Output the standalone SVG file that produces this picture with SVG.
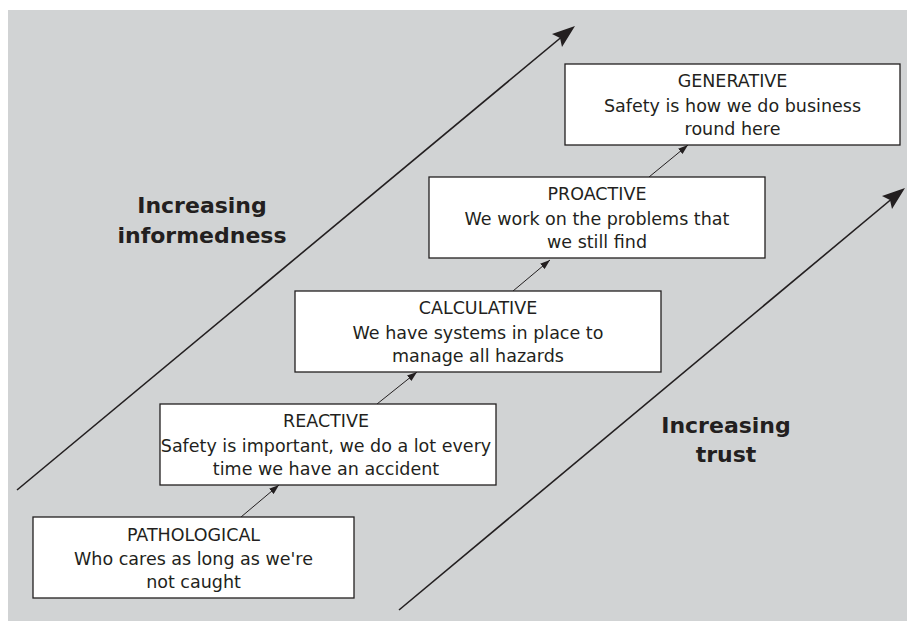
<svg xmlns="http://www.w3.org/2000/svg" width="907" height="621" viewBox="0 0 907 621">
<style>
.box{fill:#ffffff;stroke:#231f20;stroke-width:1.3}
.t{font-family:"DejaVu Sans","Liberation Sans",sans-serif;font-size:17.5px;fill:#231f20;text-anchor:middle}
.b{font-family:"DejaVu Sans","Liberation Sans",sans-serif;font-size:22px;font-weight:bold;fill:#231f20;text-anchor:middle}
.big{stroke:#231f20;stroke-width:1.6;fill:none}
.small{stroke:#231f20;stroke-width:1;fill:none}
</style>
<defs>
<marker id="smallHead" viewBox="0 0 10 7" refX="10" refY="3.5" markerWidth="10" markerHeight="7" markerUnits="userSpaceOnUse" orient="auto">
<path d="M0,0 L10,3.5 L0,7 Z" fill="#231f20"/>
</marker>
</defs>
<rect x="0" y="0" width="907" height="621" fill="#ffffff"/>
<rect x="8" y="10" width="899" height="611" fill="#d1d3d4"/>
<g id="connectors">
<line class="big" x1="17" y1="490" x2="570" y2="30"/>
<path d="M575,26 L552,34 L560,38 L562,47 Z" fill="#231f20"/>
<line class="big" x1="399" y1="610" x2="900" y2="192"/>
<path d="M905,188 L882,196 L890,200 L892,209 Z" fill="#231f20"/>
<line class="small" x1="241" y1="517" x2="279" y2="485" marker-end="url(#smallHead)"/>
<line class="small" x1="377" y1="404" x2="417" y2="372" marker-end="url(#smallHead)"/>
<line class="small" x1="513" y1="291" x2="550" y2="260" marker-end="url(#smallHead)"/>
<line class="small" x1="649" y1="177" x2="688" y2="145" marker-end="url(#smallHead)"/>
</g>
<g id="pathological">
<rect class="box" x="33" y="517" width="321" height="81"/>
<text class="t" x="193.5" y="541">PATHOLOGICAL</text>
<text class="t" x="193.5" y="565">Who cares as long as we're</text>
<text class="t" x="193.5" y="588">not caught</text>
</g>
<g id="reactive">
<rect class="box" x="160" y="404" width="336" height="81"/>
<text class="t" x="326" y="427">REACTIVE</text>
<text class="t" x="326" y="452">Safety is important, we do a lot every</text>
<text class="t" x="326" y="475">time we have an accident</text>
</g>
<g id="calculative">
<rect class="box" x="295" y="291" width="366" height="81"/>
<text class="t" x="478" y="314">CALCULATIVE</text>
<text class="t" x="478" y="339">We have systems in place to</text>
<text class="t" x="478" y="362">manage all hazards</text>
</g>
<g id="proactive">
<rect class="box" x="429" y="177" width="336" height="81"/>
<text class="t" x="597" y="200">PROACTIVE</text>
<text class="t" x="597" y="225">We work on the problems that</text>
<text class="t" x="597" y="248">we still find</text>
</g>
<g id="generative">
<rect class="box" x="565" y="64" width="335" height="81"/>
<text class="t" x="732.5" y="87">GENERATIVE</text>
<text class="t" x="732.5" y="112">Safety is how we do business</text>
<text class="t" x="732.5" y="135">round here</text>
</g>
<g id="label-informedness">
<text class="b" x="202" y="213">Increasing</text>
<text class="b" x="202" y="243">informedness</text>
</g>
<g id="label-trust">
<text class="b" x="726" y="433">Increasing</text>
<text class="b" x="726" y="462">trust</text>
</g>
</svg>
